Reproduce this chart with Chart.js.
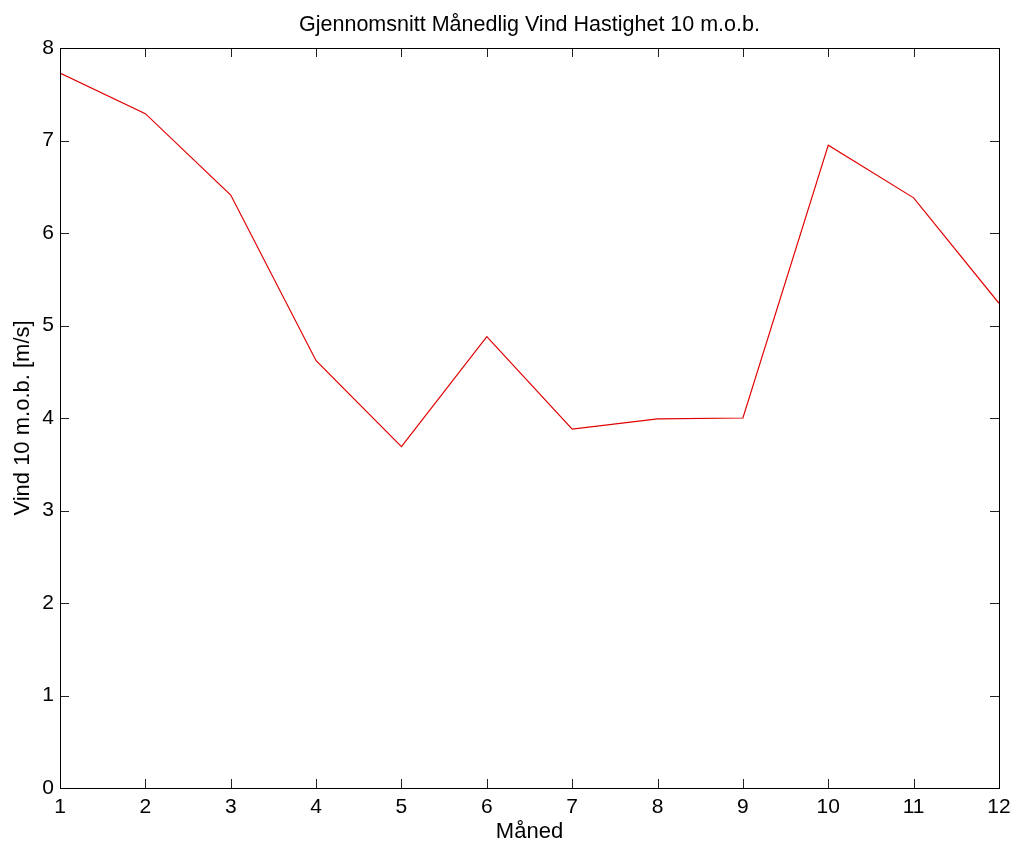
<!DOCTYPE html>
<html>
<head>
<meta charset="utf-8">
<script src="https://cdn.jsdelivr.net/npm/chart.js@4"></script>
<style>
  html, body { margin: 0; padding: 0; background: #fff; }
  #wrap { width: 1013px; height: 843px; }
</style>
</head>
<body>
<div id="wrap"><canvas id="grafico" width="1013" height="843"></canvas></div>
<script>
const maaneder = [1, 2, 3, 4, 5, 6, 7, 8, 9, 10, 11, 12];
const vind = [7.73, 7.29, 6.41, 4.62, 3.69, 4.88, 3.88, 3.99, 4.00, 6.95, 6.38, 5.24];
const yTicks = [0, 1, 2, 3, 4, 5, 6, 7, 8];

const tittel = 'Gjennomsnitt Månedlig Vind Hastighet 10 m.o.b.';
const fontFamily = '"Liberation Sans", Arial, sans-serif';

// MATLAB-style box with tick marks pointing inward, plus the title
const boksPlugin = {
  id: 'boks',
  afterDraw(chart) {
    const ctx = chart.ctx;
    const a = chart.chartArea;
    const xs = chart.scales.x;
    const ys = chart.scales.y;
    const len = 9;
    ctx.save();
    ctx.strokeStyle = '#222';
    ctx.lineWidth = 1;
    ctx.beginPath();
    xs.ticks.forEach(t => {
      if (t.value === xs.min || t.value === xs.max) return;
      const px = Math.round(xs.getPixelForValue(t.value)) + 0.5;
      ctx.moveTo(px, a.bottom); ctx.lineTo(px, a.bottom - len);
      ctx.moveTo(px, a.top); ctx.lineTo(px, a.top + len);
    });
    ys.ticks.forEach(t => {
      if (t.value === ys.min || t.value === ys.max) return;
      const py = Math.round(ys.getPixelForValue(t.value)) + 0.5;
      ctx.moveTo(a.left, py); ctx.lineTo(a.left + len, py);
      ctx.moveTo(a.right, py); ctx.lineTo(a.right - len, py);
    });
    ctx.stroke();
    ctx.strokeStyle = '#000';
    ctx.strokeRect(Math.round(a.left) + 0.5, Math.round(a.top) + 0.5,
      Math.round(a.right - a.left), Math.round(a.bottom - a.top));

    ctx.fillStyle = '#000';
    ctx.font = '21.5px ' + fontFamily;
    ctx.textAlign = 'center';
    ctx.textBaseline = 'alphabetic';
    ctx.fillText(tittel, (a.left + a.right) / 2, 31);
    ctx.restore();
  }
};

const ctx = document.getElementById('grafico').getContext('2d');
window.grafico = new Chart(ctx, {
  type: 'line',
  data: {
    datasets: [{
      label: 'Vind',
      data: maaneder.map((m, i) => ({ x: m, y: vind[i] })),
      borderColor: '#e00000',
      borderWidth: 1.2,
      pointRadius: 0,
      tension: 0,
      fill: false
    }]
  },
  options: {
    responsive: false,
    animation: false,
    layout: { padding: { top: 48, right: 14, bottom: 0, left: 0 } },
    plugins: {
      legend: { display: false },
      tooltip: { enabled: false },
      title: { display: false }
    },
    scales: {
      x: {
        type: 'linear',
        min: 1,
        max: 12,
        afterFit(scale) {
          scale.height = 55;
          scale.paddingLeft = 0;
          scale.paddingRight = 0;
        },
        afterBuildTicks(scale) { scale.ticks = maaneder.map(v => ({ value: v })); },
        grid: { display: false, drawTicks: false },
        border: { display: false },
        ticks: {
          padding: 7,
          color: '#000',
          font: { family: fontFamily, size: 21 },
          maxRotation: 0,
          autoSkip: false
        },
        title: {
          display: true,
          text: 'Måned',
          color: '#000',
          font: { family: fontFamily, size: 22, lineHeight: 1 },
          padding: { top: 0, bottom: 0 }
        }
      },
      y: {
        min: 0,
        max: 8,
        afterFit(scale) {
          scale.width = 60;
          scale.paddingTop = 0;
          scale.paddingBottom = 0;
        },
        afterBuildTicks(scale) { scale.ticks = yTicks.map(v => ({ value: v })); },
        grid: { display: false, drawTicks: false },
        border: { display: false },
        ticks: {
          padding: 6,
          color: '#000',
          font: { family: fontFamily, size: 21 }
        },
        title: {
          display: true,
          text: 'Vind 10 m.o.b. [m/s]',
          color: '#000',
          font: { family: fontFamily, size: 22, lineHeight: 1 },
          padding: { top: 12, bottom: 0 }
        }
      }
    }
  },
  plugins: [boksPlugin]
});
</script>
</body>
</html>
